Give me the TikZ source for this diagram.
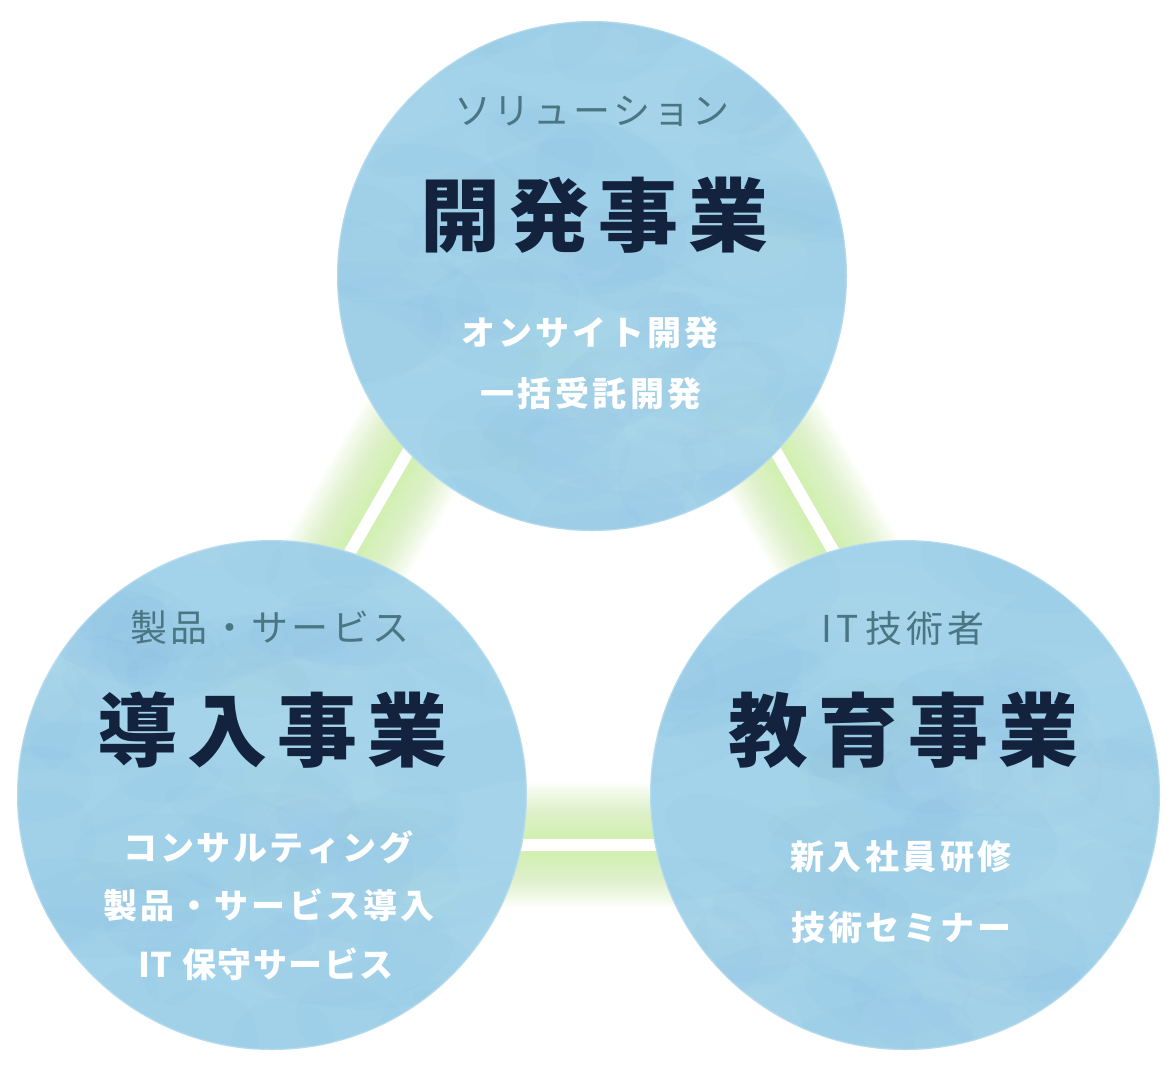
\documentclass[tikz,border=0pt]{standalone}
\usepackage{fontspec}
\newfontfamily\jp{Noto Sans CJK JP}
\definecolor{circ}{HTML}{A3D3EA}
\definecolor{circdark}{HTML}{6FA8D6}
\definecolor{circlight}{HTML}{BDE4F3}
\definecolor{circgreen}{HTML}{A6D8C8}
\definecolor{navy}{HTML}{13233E}
\definecolor{subc}{HTML}{4A7683}
\definecolor{glow}{HTML}{C8F09E}
\newcommand\spr[2]{\makebox[#1][s]{#2}}
\newcommand\watercolor[1]{%
  \pgfmathsetseed{#1}%
  \foreach \i in {1,...,60}{%
    \pgfmathsetmacro\bx{rnd*520-260}%
    \pgfmathsetmacro\by{rnd*520-260}%
    \pgfmathsetmacro\rx{30+rnd*90}%
    \pgfmathsetmacro\ry{15+rnd*40}%
    \pgfmathsetmacro\ang{rnd*60-30}%
    \fill[circdark, opacity=0.04, rotate around={\ang:(\bx,\by)}] (\bx,\by) ellipse ({\rx} and {\ry});
  }%
  \foreach \i in {1,...,30}{%
    \pgfmathsetmacro\bx{rnd*520-260}%
    \pgfmathsetmacro\by{rnd*520-260}%
    \pgfmathsetmacro\rx{30+rnd*80}%
    \pgfmathsetmacro\ry{15+rnd*35}%
    \fill[circlight, opacity=0.08] (\bx,\by) ellipse ({\rx} and {\ry});
  }%
  \foreach \i in {1,...,6}{%
    \pgfmathsetmacro\bx{rnd*400-200}%
    \pgfmathsetmacro\by{rnd*400-200}%
    \fill[circgreen, opacity=0.08] (\bx,\by) ellipse (50 and 25);
  }%
}
\begin{document}
\begin{tikzpicture}[x=1pt,y=-1pt,
  bub/.style={circle, minimum size=510pt, inner sep=0, fill=circ},
  sub/.style={font=\jp\fontsize{37}{42}\selectfont, text=subc, inner sep=0},
  ttl/.style={font=\jp\bfseries\fontsize{80}{84}\selectfont, text=navy, inner sep=0},
  itm/.style={font=\jp\bfseries\fontsize{34}{38}\selectfont, text=white, inner sep=0}]
\useasboundingbox (0,0) rectangle (1176,1072);
\fill[white] (0,0) rectangle (1176,1072);

% triangle with glow
\coordinate (A) at (592,133);
\coordinate (B) at (181,845);
\coordinate (C) at (1003,845);
\foreach \w in {124,120,...,16}
  \draw[glow, opacity=0.045, line width=\w pt, line join=round] (A) -- (B) -- (C) -- cycle;
\draw[white, line width=12pt, line join=round] (A) -- (B) -- (C) -- cycle;

% circles
\node[bub] (dev) at (592,276) {};
\node[bub] (imp) at (272,795) {};
\node[bub] (edu) at (905,795) {};
\begin{scope}
  \clip (dev.center) circle (255);
  \begin{scope}[shift={(592,276)}]\watercolor{3}\end{scope}
\end{scope}
\begin{scope}
  \clip (imp.center) circle (255);
  \begin{scope}[shift={(272,795)}]\watercolor{11}\end{scope}
\end{scope}
\begin{scope}
  \clip (edu.center) circle (255);
  \begin{scope}[shift={(905,795)}]\watercolor{29}\end{scope}
\end{scope}
\foreach \c in {dev,imp,edu}
  \draw[white, opacity=0.2, line width=1.5pt] (\c.center) circle (254.5);

% top circle text
\node[sub] (devsub) at (592,111) {\spr{276pt}{ソ\hfill リ\hfill ュ\hfill ー\hfill シ\hfill ョ\hfill ン}};
\node[ttl] (devttl) at (594,215) {\spr{348pt}{開\hfill 発\hfill 事\hfill 業}};
\node[itm] (dev1) at (590,333) {\spr{257pt}{オ\hfill ン\hfill サ\hfill イ\hfill ト\hfill 開\hfill 発}};
\node[itm] (dev2) at (591,394) {\spr{221pt}{一\hfill 括\hfill 受\hfill 託\hfill 開\hfill 発}};

% left circle text
\node[sub] (impsub) at (270,627) {\spr{279pt}{製\hfill 品\hfill ・\hfill サ\hfill ー\hfill ビ\hfill ス}};
\node[ttl] (impttl) at (272,730) {\spr{350pt}{導\hfill 入\hfill 事\hfill 業}};
\node[itm] (imp1) at (268.5,847) {\spr{290pt}{コ\hfill ン\hfill サ\hfill ル\hfill テ\hfill ィ\hfill ン\hfill グ}};
\node[itm] (imp2) at (269,905) {\spr{331pt}{製\hfill 品\hfill ・\hfill サ\hfill ー\hfill ビ\hfill ス\hfill 導\hfill 入}};
\node[itm] (imp3) at (266,964) {\spr{255pt}{IT\hspace{9pt}\hfill 保\hfill 守\hfill サ\hfill ー\hfill ビ\hfill ス}};

% right circle text
\node[sub] (edusub) at (903,628) {\spr{164pt}{I\hfill T\hspace{3pt}\hfill 技\hfill 術\hfill 者}};
\node[ttl] (eduttl) at (903.5,730) {\spr{351pt}{教\hfill 育\hfill 事\hfill 業}};
\node[itm] (edu1) at (901,857) {\spr{221pt}{新\hfill 入\hfill 社\hfill 員\hfill 研\hfill 修}};
\node[itm] (edu2) at (901.5,928) {\spr{220pt}{技\hfill 術\hfill セ\hfill ミ\hfill ナ\hfill ー}};
\end{tikzpicture}
\end{document}
